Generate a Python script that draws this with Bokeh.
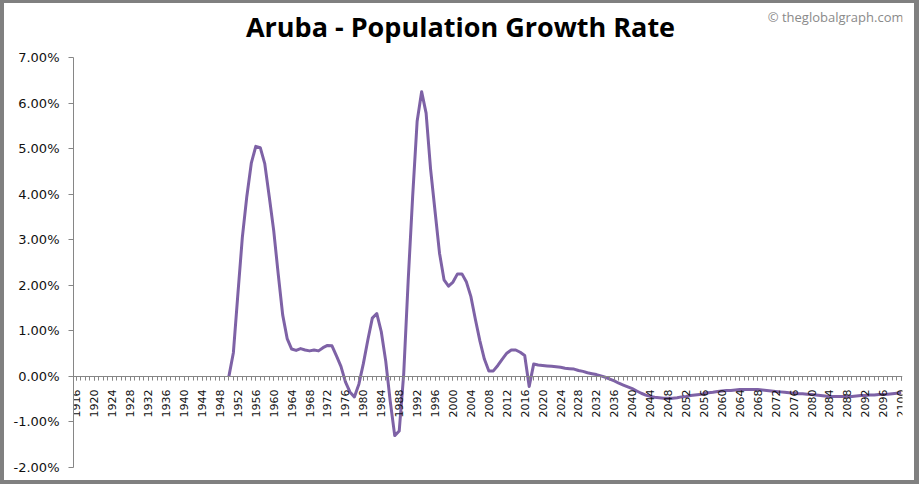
import math
from bokeh.plotting import figure
from bokeh.models import (Range1d, FixedTicker, PrintfTickFormatter, LinearAxis, Label)
from bokeh.embed import file_html
from bokeh.resources import INLINE

# ---- data (percent) ----
years = list(range(1950, 2101))
growth = [
    0.00, 0.52, 1.80, 3.05, 3.95, 4.68, 5.05, 5.02, 4.67, 3.95,   # 1950-1959
    3.20, 2.25, 1.35, 0.83, 0.60, 0.57, 0.61, 0.58, 0.56, 0.58,   # 1960-1969
    0.56, 0.63, 0.68, 0.67, 0.45, 0.22, -0.12, -0.34, -0.45, -0.17,  # 1970-1979
    0.28, 0.80, 1.28, 1.38, 0.98, 0.33, -0.55, -1.30, -1.20, 0.05,  # 1980-1989
    2.10, 3.95, 5.60, 6.25, 5.78, 4.55, 3.62, 2.70, 2.12, 1.98,   # 1990-1999
    2.07, 2.25, 2.25, 2.07, 1.75, 1.25, 0.78, 0.38, 0.12, 0.12,   # 2000-2009
    0.24, 0.38, 0.51, 0.58, 0.58, 0.53, 0.46, -0.22, 0.27, 0.25,  # 2010-2019
    0.24, 0.23, 0.22, 0.21, 0.20, 0.18, 0.17, 0.16, 0.13, 0.11,   # 2020-2029
    0.08, 0.06, 0.04, 0.01, -0.02, -0.06, -0.10, -0.15, -0.19, -0.23,  # 2030-2039
    -0.27, -0.32, -0.37, -0.41, -0.44, -0.46, -0.47, -0.48, -0.48, -0.48,  # 2040-2049
    -0.47, -0.45, -0.44, -0.42, -0.41, -0.40, -0.38, -0.36, -0.35, -0.33,  # 2050-2059
    -0.32, -0.31, -0.31, -0.30, -0.29, -0.29, -0.29, -0.29, -0.29, -0.30,  # 2060-2069
    -0.31, -0.32, -0.33, -0.34, -0.35, -0.36, -0.37, -0.38, -0.38, -0.39,  # 2070-2079
    -0.40, -0.41, -0.42, -0.43, -0.44, -0.44, -0.44, -0.44, -0.44, -0.44,  # 2080-2089
    -0.43, -0.42, -0.42, -0.41, -0.41, -0.40, -0.40, -0.39, -0.38, -0.37,  # 2090-2099
    -0.36,  # 2100
]
x_label_years = list(range(1916, 2101, 4))
x_minor_years = list(range(1916, 2101))
y_ticks = [-2, -1, 0, 1, 2, 3, 4, 5, 6, 7]

title_text = "Aruba - Population Growth Rate"
credit_text = "\u00a9 theglobalgraph.com"

AXIS_COLOR = "#868686"
LINE_COLOR = "#7E62A6"
BORDER = "#808080"

Y_MIN, Y_MAX = y_ticks[0], y_ticks[-1]
PX_PER_UNIT = 410 / (Y_MAX - Y_MIN)      # plot area height in px / value span
TOP_SPACE = 54                           # px above the 7% line (title area)

y_range = Range1d(Y_MIN, Y_MAX + TOP_SPACE / PX_PER_UNIT)
x_range = Range1d(1915.33, 2100.29)

p = figure(width=910, height=477, output_backend="svg", toolbar_location=None,
           x_range=x_range, y_range=y_range,
           min_border_left=69, min_border_right=12, min_border_bottom=13,
           min_border_top=0, x_axis_type=None, y_axis_type=None)
p.styles = {"margin": "3px 5px 4px 4px",
            "box-shadow": f"0 0 0 4px {BORDER}, 1px 0 0 4px {BORDER}"}
p.outline_line_color = None
p.background_fill_color = "white"
p.border_fill_color = "white"

title = Label(x=x_range.start, y=Y_MAX, x_offset=387, y_offset=31,
              text=title_text, text_align="center", text_baseline="middle",
              text_font="Open Sans", text_font_size="27px", text_font_style="bold",
              text_color="#000000")
p.add_layout(title)

credit = Label(x=x_range.end, y=Y_MAX, x_offset=1, y_offset=41,
               text=credit_text, text_align="right", text_baseline="middle",
               text_font="Open Sans", text_font_size="13px", text_color="#8a8a8a")
p.add_layout(credit)

# y axis
yaxis = LinearAxis(ticker=FixedTicker(ticks=y_ticks), bounds=(Y_MIN, Y_MAX),
                   formatter=PrintfTickFormatter(format="%.2f%%"))
yaxis.axis_line_color = AXIS_COLOR
yaxis.major_tick_line_color = AXIS_COLOR
yaxis.major_tick_out = 5
yaxis.major_tick_in = 0
yaxis.minor_tick_line_color = None
yaxis.major_label_standoff = 9
yaxis.major_label_text_font = "DejaVu Sans"
yaxis.major_label_text_font_size = "13px"
yaxis.major_label_text_color = "#111111"
p.add_layout(yaxis, "left")

# x axis crossing at y = 0
xaxis = LinearAxis(ticker=FixedTicker(ticks=x_label_years, minor_ticks=x_minor_years),
                   fixed_location=0)
xaxis.axis_line_color = AXIS_COLOR
xaxis.major_tick_line_color = AXIS_COLOR
xaxis.minor_tick_line_color = AXIS_COLOR
xaxis.major_tick_out = 4
xaxis.major_tick_in = 0
xaxis.minor_tick_out = 4
xaxis.minor_tick_in = 0
xaxis.major_label_orientation = math.pi / 2
xaxis.major_label_standoff = 9
xaxis.major_label_text_font = "DejaVu Sans"
xaxis.major_label_text_font_size = "11px"
xaxis.major_label_text_color = "#111111"
p.add_layout(xaxis, "below")

# grid
p.ygrid.grid_line_color = "#ebebeb"
p.ygrid.ticker = FixedTicker(ticks=y_ticks)
p.xgrid.grid_line_color = None

p.line(years, growth, line_color=LINE_COLOR, line_width=3, line_join="round")

open("out.html", "w").write(file_html(p, INLINE))
